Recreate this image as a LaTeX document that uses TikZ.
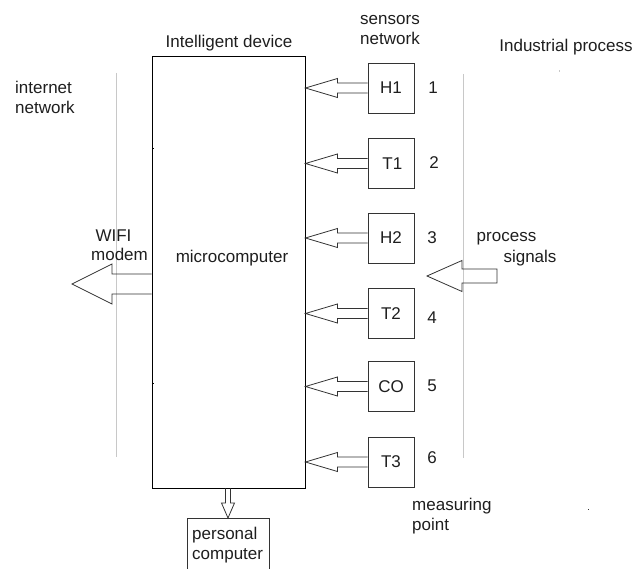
\documentclass[tikz,border=0pt]{standalone}
\usepackage{fontspec}
\setmainfont{Liberation Sans}
\usetikzlibrary{calc}
\definecolor{txt}{HTML}{1E1E1E}
\definecolor{ln}{HTML}{333333}
\definecolor{sep}{HTML}{C8C8C8}
\tikzset{
  lbl/.style={inner sep=0pt, text=txt, font=\fontsize{17}{20}\selectfont},
  sensor/.style={draw=ln, line width=0.9pt, minimum width=46pt, minimum height=50pt, inner sep=0pt, text=txt, font=\fontsize{17}{20}\selectfont},
  blk/.style={draw=ln, line width=0.8pt, line join=miter},
  sepline/.style={draw=sep, line width=0.9pt}
}
% left-pointing block arrow: #1 tail point, #2 point giving tip x, #3 shaft half, #4 head half, #5 head length
\newcommand\leftblk[6][]{%
  \draw[blk] let \p1=(#2), \p2=(#3) in
    (\x1,\y1+#4) -- (\x2+#6,\y1+#4) -- (\x2+#6,\y1+#5) -- (\x2,\y1)
    -- (\x2+#6,\y1-#5) -- (\x2+#6,\y1-#4) -- (\x1,\y1-#4) #1;}
\begin{document}
\begin{tikzpicture}[x=1pt,y=-1pt]
\useasboundingbox (0,0) rectangle (638,569);
% separator lines
\draw[sepline] (116,73) -- (116,457);
\draw[sepline] (463,74) -- (463,458);
% main box
\node[draw=black, line width=0.9pt, minimum width=153pt, minimum height=432pt, inner sep=0pt] (main) at (228.5,272) {};
\node[lbl] (micro) at (232,258) {microcomputer};
\node[lbl] (intel) at (229,43) {Intelligent device};
\draw[black, line width=0.8pt] (152,148) -- (154,148);
\draw[black, line width=0.8pt] (152,383) -- (154,383);
% sensors
\node[sensor] (H1) at (391,88) {H1};
\node[sensor] (T1) at (391,163.5) {\,T1};
\node[sensor] (H2) at (391,238) {H2};
\node[sensor] (T2) at (391,313.5) {T2};
\node[sensor] (CO) at (391,386.5) {CO};
\node[sensor] (T3) at (391,462) {T3};
\foreach \s in {H1,T1,H2,T2,CO,T3}{
  \leftblk{\s.west}{main.east}{5pt}{9.5pt}{32pt}
}
% numbers
\node[lbl] (n1) at (433,88) {1};
\node[lbl] (n2) at (434,163) {2};
\node[lbl] (n3) at (432,238) {3};
\node[lbl] (n4) at (432,318) {4};
\node[lbl] (n5) at (432,386) {5};
\node[lbl] (n6) at (432,458) {6};
% headings
\node[lbl, align=center] (sens) at (390,30.5) {sensors\\network};
\node[lbl] (ind) at (566,47) {Industrial process};
\node[lbl, align=left, anchor=west] (inet) at (15,97) {internet\\network};
\node[lbl] (wifi) at (113.5,236) {WIFI};
\node[lbl] (modem) at (119.5,254) {modem};
\node[lbl] (proc) at (506.5,239) {process};
\node[lbl] (sig) at (530,258) {signals};
\node[lbl, align=left, anchor=west] (meas) at (412,516) {measuring\\point};
% WIFI arrow
\coordinate (wtip) at (72,284);
\leftblk{main.west |- wtip}{wtip}{10pt}{20pt}{40pt}
% process signals arrow
\coordinate (ptail) at (497,276);
\coordinate (ptip) at (427,276);
\leftblk[-- cycle]{ptail}{ptip}{7pt}{15.5pt}{35pt}
% personal computer
\node[draw=ln, line width=0.9pt, minimum width=82pt, minimum height=70pt, inner sep=0pt, anchor=north] (pc) at (228,518) {};
\node[lbl, align=left, anchor=west] (pct) at (192,545) {personal\\computer};
\draw[blk] let \p1=(main.south), \p2=(pc.north) in
  (\x2-2.5pt,\y1) -- (\x2-2.5pt,\y2+15pt) -- (\x2-6.5pt,\y2+15pt) -- (\x2,\y2)
  -- (\x2+6.5pt,\y2+15pt) -- (\x2+2.5pt,\y2+15pt) -- (\x2+2.5pt,\y1);
% stray dots
\fill[sep] (559,70) rectangle (560,72);
\fill[ln] (588,509) rectangle (589.3,510.3);
\end{tikzpicture}
\end{document}
